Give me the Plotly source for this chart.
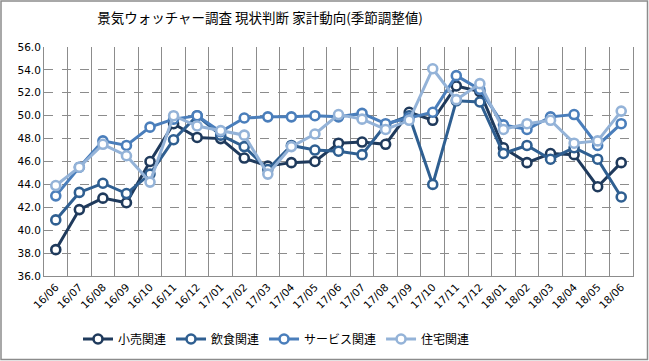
import plotly.graph_objects as go

categories = ["16/06", "16/07", "16/08", "16/09", "16/10", "16/11", "16/12",
              "17/01", "17/02", "17/03", "17/04", "17/05", "17/06", "17/07",
              "17/08", "17/09", "17/10", "17/11", "17/12", "18/01", "18/02",
              "18/03", "18/04", "18/05", "18/06"]

retail = [38.3, 41.8, 42.8, 42.4, 46.0, 49.3, 48.1, 48.0, 46.3, 45.6, 45.9, 46.0, 47.6,
          47.7, 47.5, 50.3, 49.6, 52.6, 52.1, 47.2, 45.9, 46.7, 46.6, 43.8, 45.9]
food = [40.9, 43.3, 44.1, 43.2, 44.9, 47.9, 50.0, 48.3, 47.3, 45.3, 47.4, 47.0, 46.9,
        46.6, 49.2, 50.0, 44.0, 51.3, 51.2, 46.7, 47.4, 46.2, 47.2, 46.2, 42.9]
service = [43.0, 45.5, 47.8, 47.4, 49.0, 49.7, 50.0, 48.6, 49.8, 49.9, 49.9, 50.0, 49.9,
           50.2, 49.3, 49.8, 50.3, 53.5, 52.3, 49.2, 48.8, 49.9, 50.1, 47.4, 49.3]
housing = [43.9, 45.5, 47.5, 46.5, 44.2, 50.0, 49.1, 48.7, 48.3, 44.9, 47.3, 48.4, 50.1,
           49.7, 48.8, 49.6, 54.1, 51.4, 52.8, 48.8, 49.3, 49.6, 47.6, 47.8, 50.4]

series_names = ["小売関連", "飲食関連", "サービス関連", "住宅関連"]
series_values = [retail, food, service, housing]
colors = ["#1F3A5C", "#2F5F91", "#4A7EBB", "#94B3D8"]

title_text = "景気ウォッチャー調査 現状判断 家計動向(季節調整値)"

W, H = 649, 361
L, R, T, B = 44, 633, 47, 276

fig = go.Figure()
for name, vals, col in zip(series_names, series_values, colors):
    fig.add_trace(go.Scatter(
        x=categories, y=vals, name=name, mode="lines+markers",
        line=dict(color=col, width=3),
        marker=dict(symbol="circle", size=9, color="white",
                    line=dict(color=col, width=2.6)),
    ))

jp = "Noto Sans CJK JP"
fig.update_layout(
    width=W, height=H,
    margin=dict(l=L, r=W - R, t=T, b=H - B, autoexpand=False),
    paper_bgcolor="white", plot_bgcolor="white",
    title=dict(text=title_text, x=260 / W, xanchor="center",
               y=1 - 18 / H, yanchor="middle",
               font=dict(family=jp, size=13.5, color="black")),
    showlegend=True,
    legend=dict(orientation="h", xref="container", x=78 / W, xanchor="left",
                yref="container", y=1 - 339 / H, yanchor="middle",
                font=dict(family=jp, size=12, color="black"),
                itemwidth=30, tracegroupgap=0, bgcolor="rgba(0,0,0,0)"),
    xaxis=dict(type="category", tickson="boundaries", showgrid=True,
               gridcolor="#8C8C8C", gridwidth=1, showline=True,
               linecolor="#8C8C8C", linewidth=1, ticks="",
               automargin=False,
               tickangle=-45, tickfont=dict(family="DejaVu Sans", size=10.5, color="black"),
               range=[-0.5, len(categories) - 0.5]),
    yaxis=dict(range=[36, 56], dtick=2, tickformat=".1f", showgrid=True,
               gridcolor="#8C8C8C", griddash="dash", gridwidth=1,
               showline=True, linecolor="#8C8C8C", linewidth=1, ticks="",
               mirror=True, automargin=False,
               tickfont=dict(family="DejaVu Sans", size=10.5, color="black"),
               zeroline=False),
)

# outer chart border
pw, ph = R - L, B - T
fig.add_shape(type="rect", xref="paper", yref="paper",
              x0=(1 - L) / pw, x1=(W - 1.5 - L) / pw,
              y0=(B - (H - 1.5)) / ph, y1=(B - 1) / ph,
              line=dict(color="#8C8C8C", width=1.5), fillcolor="rgba(0,0,0,0)",
              layer="above")

fig.write_html("out.html", config={"displayModeBar": False},
               post_script="document.body.style.margin='0';document.body.style.padding='0';")
